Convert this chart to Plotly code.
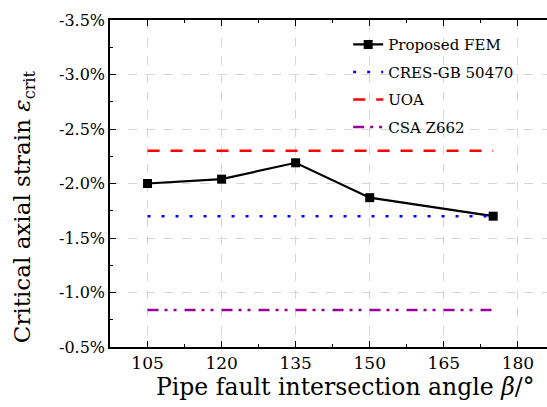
import plotly.graph_objects as go

angles = [105, 120, 135, 150, 175]
fem = [-2.00, -2.04, -2.19, -1.87, -1.70]
line_x = [105, 120, 135, 150, 165, 175]
cres = [-1.70] * 6
uoa = [-2.30] * 6
csa = [-0.84] * 6
y_ticks = [-0.5, -1.0, -1.5, -2.0, -2.5, -3.0, -3.5]
y_tick_labels = ["-0.5%", "-1.0%", "-1.5%", "-2.0%", "-2.5%", "-3.0%", "-3.5%"]

FONT = "DejaVu Serif"

fig = go.Figure()
fig.add_trace(go.Scatter(x=angles, y=fem, name="Proposed FEM", mode="lines+markers",
                         legendgroup="a",
                         line=dict(color="black", width=2.2),
                         marker=dict(symbol="square", size=9, color="black")))
fig.add_trace(go.Scatter(x=line_x, y=cres, name="CRES-GB 50470", mode="lines",
                         legendgroup="b",
                         line=dict(color="#0000ff", width=2.5, dash="3px,11px")))
fig.add_trace(go.Scatter(x=line_x, y=uoa, name="UOA", mode="lines",
                         legendgroup="c",
                         line=dict(color="#ff0000", width=2.5, dash="12px,11px")))
fig.add_trace(go.Scatter(x=line_x, y=csa, name="CSA Z662", mode="lines",
                         legendgroup="d",
                         line=dict(color="#990099", width=2.5, dash="11px,6px,3px,6px,3px,8px")))

fig.update_layout(
    width=547, height=407,
    margin=dict(l=110, r=0, t=20, b=60),
    plot_bgcolor="white", paper_bgcolor="white",
    font=dict(family=FONT, color="black", size=15),
    showlegend=True,
    legend=dict(x=0.545, y=0.975, xanchor="left", yanchor="top",
                bgcolor="rgba(0,0,0,0)", font=dict(size=15, family=FONT),
                tracegroupgap=5, itemwidth=30),
    annotations=[
        dict(text="Critical axial strain <i>ε</i><sub>crit</sub>",
             xref="paper", yref="paper", x=-0.195, y=0.43,
             xanchor="center", yanchor="middle", textangle=-90,
             showarrow=False, font=dict(size=23, family=FONT)),
        dict(text="Pipe fault intersection angle <i>β</i>/°",
             xref="paper", yref="paper", x=0.538, y=-0.122,
             xanchor="center", yanchor="middle",
             showarrow=False, font=dict(size=23.5, family=FONT)),
    ],
)
fig.update_xaxes(
    range=[97.4, 185.9], tick0=105, dtick=15,
    showline=True, linecolor="black", linewidth=1.5, mirror="ticks",
    ticks="inside", ticklen=6, tickcolor="black", tickwidth=1.2,
    showgrid=True, gridcolor="#d6d6d6", griddash="dash", gridwidth=1,
    zeroline=False,
    minor=dict(dtick=7.5, tick0=105, ticks="inside", ticklen=3, tickcolor="black", showgrid=False),
    tickfont=dict(size=17, family=FONT),
)
fig.update_yaxes(
    range=[-0.5, -3.5], tickvals=y_ticks, ticktext=y_tick_labels,
    showline=True, linecolor="black", linewidth=1.5, mirror=False,
    ticks="inside", ticklen=6, tickcolor="black", tickwidth=1.2,
    showgrid=True, gridcolor="#d6d6d6", griddash="dash", gridwidth=1,
    zeroline=False,
    minor=dict(dtick=0.25, ticks="inside", ticklen=3, tickcolor="black", showgrid=False),
    tickfont=dict(size=16, family=FONT),
)

fig.write_html("out.html")
